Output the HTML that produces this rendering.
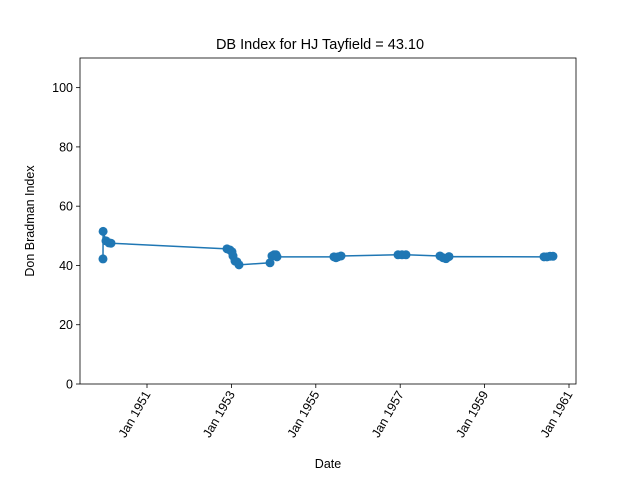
<!DOCTYPE html>
<html><head><meta charset="utf-8"><style>
body{margin:0;background:#fff;}
svg{display:block;font-family:"Liberation Sans","DejaVu Sans",sans-serif;}
</style></head><body>
<svg id="chart" width="640" height="480"></svg>
<script>
const dates=[1949.957,1949.96,1950.028,1950.10,1950.147,1952.896,1952.967,1953.014,1953.038,1953.085,1953.133,1953.18,1953.915,1953.962,1954.01,1954.057,1954.08,1955.43,1955.479,1955.526,1955.597,1956.948,1957.043,1957.137,1957.943,1958.014,1958.085,1958.156,1960.408,1960.479,1960.55,1960.62];
const values=[42.2,51.5,48.3,47.6,47.5,45.6,45.2,44.6,43.2,41.5,41.2,40.2,40.9,43.2,43.6,43.6,42.9,42.9,42.6,42.9,43.2,43.6,43.6,43.6,43.2,42.6,42.3,43.0,42.9,42.9,43.1,43.1];
const yTicks=[0,20,40,60,80,100];
const xTickYears=[1951,1953,1955,1957,1959,1961];
const xTickLabels=["Jan 1951","Jan 1953","Jan 1955","Jan 1957","Jan 1959","Jan 1961"];
const NS="http://www.w3.org/2000/svg";
const svg=document.getElementById('chart');
const L=80,R=576,T=58,B=384;
const xs=y=>147+(y-1951)*42.2;
const ys=v=>B-(v/110)*(B-T);
function mk(t,a,p){const e=document.createElementNS(NS,t);for(const k in a)e.setAttribute(k,a[k]);(p||svg).appendChild(e);return e;}
let e;
e=mk('text',{x:320,y:49,'text-anchor':'middle','font-size':14.5});e.textContent='DB Index for HJ Tayfield = 43.10';


yTicks.forEach(v=>{const y=ys(v);
 e=mk('line',{x1:L-4,x2:L,y1:y,y2:y,stroke:'#000','stroke-width':0.8});
 
 
 e=mk('text',{x:L-7,y:y+4.5,'text-anchor':'end','font-size':12.5});e.textContent=v;
 
 
});
xTickYears.forEach((yr,i)=>{const x=xs(yr);
 e=mk('line',{x1:x,x2:x,y1:B,y2:B+4,stroke:'#000','stroke-width':0.8});
 
 
 e=mk('text',{x:x+4,y:B+10,'text-anchor':'end','font-size':12.5,transform:`rotate(-60 ${x+4} ${B+10})`});e.textContent=xTickLabels[i];
 
 
});
e=mk('text',{x:328,y:468,'text-anchor':'middle','font-size':12.5});e.textContent='Date';


e=mk('text',{x:34,y:221,'text-anchor':'middle','font-size':12.5,transform:'rotate(-90 34 221)'});e.textContent='Don Bradman Index';


e=mk('polyline',{points:dates.map((d,i)=>xs(d)+','+ys(values[i])).join(' '),fill:'none',stroke:'#1f77b4','stroke-width':1.5});


dates.forEach((d,i)=>{
 e=mk('circle',{cx:xs(d),cy:ys(values[i]),r:4.5,fill:'#1f77b4'});
 
 
});
e=mk('rect',{x:L,y:T,width:R-L,height:B-T,fill:'none',stroke:'#000','stroke-width':0.8});


</script>
</body></html>
